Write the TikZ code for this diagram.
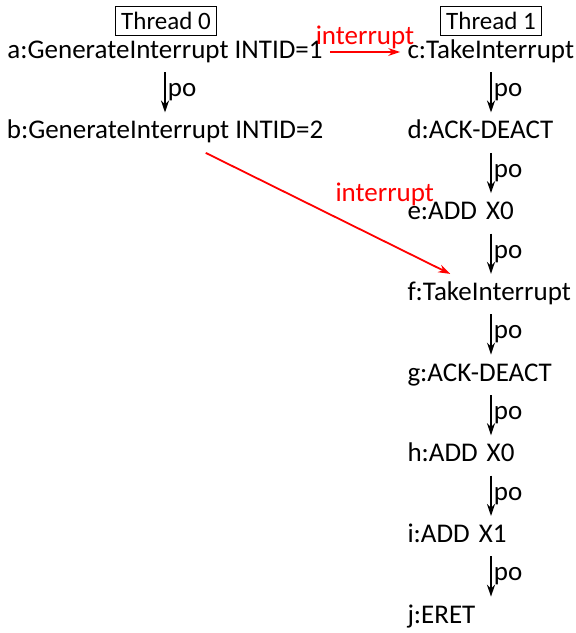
\documentclass[tikz,border=0pt]{standalone}
\usepackage{fontspec}
\setmainfont{Carlito}
\usetikzlibrary{arrows.meta,positioning}

\begin{document}
\begin{tikzpicture}[x=0.5pt,y=-0.5pt,
  font=\fontsize{13.5}{16}\selectfont,
  evt/.style={inner sep=3.5pt,text height=9.5pt,text depth=3.3pt},
  evr/.style={evt,text width=83.5pt,align=left},
  thr/.style={draw,thin,font=\fontsize{12.5}{15}\selectfont,inner xsep=3pt,inner ysep=3pt},
  po/.style={-{Stealth[length=6pt,width=4pt]},line width=0.9pt},
  intr/.style={-{Stealth[length=6pt,width=4pt]},line width=0.9pt,red}]
  \useasboundingbox (0,0) rectangle (576,633);

  %% Thread headers
  \node[thr] (t0) at (166,21) {Thread 0};
  \node[thr] (t1) at (491,21) {Thread 1};

  %% Thread 0
  \node[evt] (a) at (165,52)    {a:GenerateInterrupt INTID=1};
  \node[evt] (b) at (165,132.7) {b:GenerateInterrupt INTID=2};

  %% Thread 1
  \node[evr] (c) at (491,52)    {c:TakeInterrupt};
  \node[evr] (d) at (491,132.7) {d:ACK-DEACT};
  \node[evr] (e) at (491,213.4) {e:ADD X0};
  \node[evr] (f) at (491,294.1) {f:TakeInterrupt};
  \node[evr] (g) at (491,374.8) {g:ACK-DEACT};
  \node[evr] (h) at (491,455.5) {h:ADD X0};
  \node[evr] (i) at (491,536.2) {i:ADD X1};
  \node[evr] (j) at (491,616.9) {j:ERET};

  %% Program order
  \draw[po] (a) -- (b) node[midway,right,inner sep=1pt] {po};
  \foreach \s/\t in {c/d,d/e,e/f,f/g,g/h,h/i,i/j}
    \draw[po] (\s) -- (\t) node[midway,right,inner sep=1pt] {po};

  %% Interrupts
  \draw[intr] (a) -- (c) node[midway,above,inner sep=1pt] {interrupt};
  \draw[intr] (b) -- (f) node[midway,above right] {interrupt};
\end{tikzpicture}
\end{document}
